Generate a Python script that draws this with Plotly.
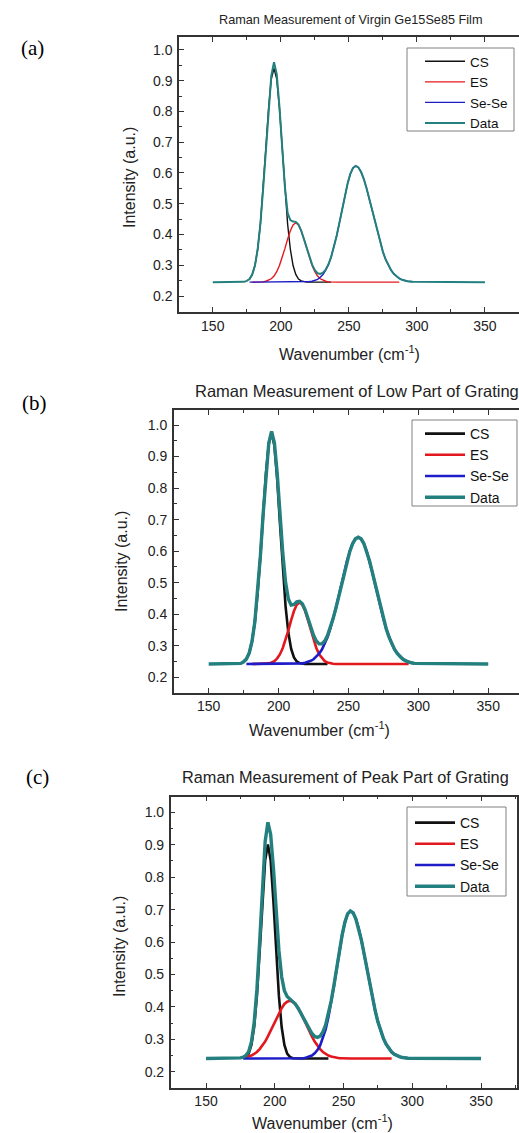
import plotly.graph_objects as go

W, H = 519, 1133

# ---------------- data ----------------
SERIES_NAMES = ["CS", "ES", "Se-Se", "Data"]
X_TICKS = [150, 200, 250, 300, 350]
Y_TICKS = [0.2, 0.3, 0.4, 0.5, 0.6, 0.7, 0.8, 0.9, 1.0]

# Wavenumber sample grid used for the measured "Data" curves
X_DATA = [150, 173] + list(range(175, 298, 2)) + [350]

# Component curves start at the given wavenumber and are sampled every 2 cm-1
CS_A_START, ES_A_START, SESE_A_START = 177, 179, 177
CS_A = [0.255, 0.270, 0.299, 0.352, 0.434, 0.547, 0.680, 0.810, 0.905, 0.940,
        0.905, 0.810, 0.680, 0.547, 0.434, 0.352, 0.299, 0.270, 0.255, 0.249,
        0.246, 0.245, 0.245, 0.245, 0.245, 0.245, 0.245, 0.245, 0.245, 0.245, 0.245]
ES_A = [0.245, 0.245, 0.245, 0.245, 0.246, 0.248, 0.251, 0.256, 0.265, 0.279,
        0.299, 0.324, 0.354, 0.385, 0.412, 0.431, 0.438, 0.431, 0.412, 0.385,
        0.354, 0.324, 0.299, 0.279, 0.265, 0.256, 0.251, 0.248, 0.246,
        0.245, 0.245, 0.245, 0.245, 0.245, 0.245, 0.245, 0.245, 0.245, 0.245,
        0.245, 0.245, 0.245, 0.245, 0.245, 0.245, 0.245, 0.245, 0.245, 0.245,
        0.245, 0.245, 0.245, 0.245, 0.245, 0.245]
SESE_A = [0.245, 0.245, 0.245, 0.245, 0.245, 0.245, 0.245, 0.245, 0.245, 0.245,
          0.245, 0.245, 0.245, 0.245, 0.245, 0.245, 0.245, 0.245, 0.245,
          0.245, 0.245, 0.246, 0.247, 0.248, 0.250, 0.254, 0.261, 0.270, 0.284,
          0.302, 0.327, 0.358, 0.395, 0.437, 0.481, 0.524, 0.564, 0.596, 0.616,
          0.623, 0.618, 0.603, 0.580, 0.550, 0.515, 0.478, 0.441, 0.405, 0.372,
          0.344, 0.319, 0.300, 0.284, 0.272, 0.263, 0.257, 0.253, 0.250, 0.248,
          0.247, 0.246]
DATA_A = [0.245, 0.246,
          0.249, 0.255, 0.270, 0.299, 0.352, 0.434, 0.548, 0.683, 0.816, 0.916,
          0.960, 0.921, 0.815, 0.685, 0.555, 0.470, 0.447, 0.442, 0.441, 0.432,
          0.412, 0.385, 0.355, 0.326, 0.302, 0.284, 0.274, 0.272, 0.276, 0.286,
          0.303, 0.327, 0.358, 0.395, 0.437, 0.481, 0.524, 0.564, 0.596, 0.616,
          0.623, 0.618, 0.603, 0.580, 0.550, 0.515, 0.478, 0.441, 0.405, 0.372,
          0.344, 0.319, 0.300, 0.284, 0.272, 0.263, 0.257, 0.253, 0.250, 0.248,
          0.247, 0.246, 0.245]

CS_B_START, ES_B_START, SESE_B_START = 175, 181, 177
CS_B = [0.249, 0.258, 0.277, 0.314, 0.375, 0.467, 0.586, 0.721, 0.849, 0.941,
        0.975, 0.935, 0.829, 0.687, 0.543, 0.425, 0.341, 0.290, 0.263, 0.250,
        0.245, 0.243, 0.242, 0.242, 0.242, 0.242, 0.242, 0.242, 0.242, 0.242, 0.242]
ES_B = [0.242, 0.242, 0.242, 0.242, 0.242, 0.243, 0.244, 0.247, 0.251, 0.260,
        0.273, 0.293, 0.318, 0.349, 0.381, 0.410, 0.430, 0.437, 0.430, 0.410,
        0.381, 0.349, 0.318, 0.293, 0.273, 0.260, 0.251, 0.247, 0.244, 0.243,
        0.242, 0.242, 0.242, 0.242, 0.242, 0.242, 0.242, 0.242, 0.242, 0.242,
        0.242, 0.242, 0.242, 0.242, 0.242, 0.242, 0.242, 0.242, 0.242, 0.242,
        0.242, 0.242, 0.242, 0.242, 0.242, 0.242, 0.242]
SESE_B = [0.242, 0.242, 0.242, 0.242, 0.242, 0.242, 0.242, 0.242, 0.242, 0.242,
          0.242, 0.242, 0.242, 0.242, 0.242, 0.242, 0.242, 0.242,
          0.243, 0.243, 0.244, 0.246, 0.248, 0.252, 0.257, 0.265, 0.275, 0.288,
          0.306, 0.327, 0.354, 0.385, 0.419, 0.457, 0.496, 0.534, 0.570, 0.600,
          0.624, 0.639, 0.644, 0.639, 0.624, 0.600, 0.570, 0.534, 0.496, 0.457,
          0.419, 0.385, 0.354, 0.327, 0.306, 0.288, 0.275, 0.265, 0.257, 0.252,
          0.248, 0.246, 0.244]
DATA_B = [0.242, 0.244,
          0.249, 0.258, 0.277, 0.314, 0.375, 0.467, 0.586, 0.721, 0.850, 0.943,
          0.980, 0.944, 0.847, 0.718, 0.594, 0.501, 0.448, 0.429, 0.431, 0.439,
          0.441, 0.433, 0.414, 0.387, 0.359, 0.333, 0.315, 0.306, 0.306, 0.315,
          0.332, 0.356, 0.386, 0.419, 0.457, 0.496, 0.534, 0.570, 0.600, 0.624,
          0.639, 0.644, 0.639, 0.624, 0.600, 0.570, 0.534, 0.496, 0.457, 0.419,
          0.385, 0.354, 0.327, 0.306, 0.288, 0.275, 0.265, 0.257, 0.252, 0.248,
          0.246, 0.244, 0.242]

CS_C_START, ES_C_START, SESE_C_START = 177, 177, 177
CS_C = [0.242, 0.246, 0.256, 0.283, 0.338, 0.434, 0.571, 0.726, 0.852, 0.901,
        0.852, 0.726, 0.571, 0.434, 0.338, 0.283, 0.256, 0.246, 0.242,
        0.241, 0.241, 0.241, 0.241, 0.241, 0.241, 0.241, 0.241, 0.241, 0.241,
        0.241, 0.241, 0.241]
ES_C = [0.243, 0.245, 0.247, 0.250, 0.255, 0.261, 0.270, 0.280, 0.293, 0.309,
        0.326, 0.344, 0.363, 0.381, 0.396, 0.409, 0.416, 0.419,
        0.416, 0.409, 0.396, 0.381, 0.363, 0.344, 0.326, 0.309, 0.293, 0.280,
        0.270, 0.261, 0.255, 0.250, 0.247, 0.245, 0.243, 0.242, 0.242,
        0.241, 0.241, 0.241, 0.241, 0.241, 0.241, 0.241, 0.241, 0.241, 0.241,
        0.241, 0.241, 0.241, 0.241, 0.241, 0.241, 0.241, 0.241]
SESE_C = [0.241, 0.241, 0.241, 0.241, 0.241, 0.241, 0.241, 0.241, 0.241, 0.241,
          0.241, 0.241, 0.241, 0.241, 0.241, 0.241, 0.241, 0.241, 0.241, 0.241,
          0.241, 0.242, 0.242, 0.244, 0.246, 0.250, 0.257, 0.267, 0.281, 0.303,
          0.331, 0.368, 0.412, 0.463, 0.517, 0.571, 0.621, 0.661, 0.687, 0.696,
          0.690, 0.671, 0.643, 0.606, 0.563, 0.517, 0.471, 0.428, 0.389, 0.354,
          0.326, 0.303, 0.285, 0.271, 0.261, 0.254, 0.249, 0.246, 0.244, 0.243,
          0.242]
DATA_C = [0.241, 0.242,
          0.243, 0.245, 0.250, 0.262, 0.292, 0.351, 0.454, 0.600, 0.765, 0.910,
          0.969, 0.932, 0.829, 0.693, 0.574, 0.493, 0.450, 0.432, 0.424, 0.418,
          0.409, 0.396, 0.381, 0.364, 0.347, 0.331, 0.318, 0.309, 0.306, 0.310,
          0.323, 0.345, 0.377, 0.418, 0.466, 0.519, 0.572, 0.622, 0.661, 0.687,
          0.696, 0.690, 0.671, 0.643, 0.606, 0.563, 0.517, 0.471, 0.428, 0.389,
          0.354, 0.326, 0.303, 0.285, 0.271, 0.261, 0.254, 0.249, 0.246, 0.244,
          0.243, 0.242, 0.241]

TITLES = ["Raman Measurement of Virgin Ge15Se85 Film",
          "Raman Measurement of Low Part of Grating",
          "Raman Measurement of Peak Part of Grating"]
PANEL_LABELS = ["(a)", "(b)", "(c)"]
X_TITLE = "Wavenumber (cm<sup>-1</sup>)"
Y_TITLE = "Intensity (a.u.)"


def grid(start, n):
    return list(range(start, start + 2 * n, 2))


PANELS = [
    dict(cs=(CS_A_START, CS_A), es=(ES_A_START, ES_A), se=(SESE_A_START, SESE_A), data=DATA_A),
    dict(cs=(CS_B_START, CS_B), es=(ES_B_START, ES_B), se=(SESE_B_START, SESE_B), data=DATA_B),
    dict(cs=(CS_C_START, CS_C), es=(ES_C_START, ES_C), se=(SESE_C_START, SESE_C), data=DATA_C),
]

# ---------------- styling / layout (pixels) ----------------
COLORS = {"CS": "#111111", "ES": "#e3181e", "Se-Se": "#1c1cc8", "Data": "#23807f"}
STYLE = [
    dict(left=179, right=519, top=37, bottom=312, xr=[125.2, 375.0], yr=[0.148, 1.042],
         lw=1.4, dlw=2.0, mirror_y=False,
         title=dict(x=350.5, y=20, size=12.7, anchor="center"),
         label=(32, 48), ytitle=(129, 178), xtitle=(349, 353),
         legend=(420, 46), lfont=13.5, lbox=(407, 48, 514, 131)),
    dict(left=173.75, right=519, top=410, bottom=692.7, xr=[125.0, 372.0], yr=[0.151, 1.0476],
         lw=2.6, dlw=3.4, mirror_y=False,
         title=dict(x=193, y=391, size=16.5, anchor="left"),
         label=(34, 403), ytitle=(121, 562), xtitle=(319, 729),
         legend=(420, 418), lfont=14, lbox=(412, 420, 517, 506)),
    dict(left=170.7, right=516.7, top=796.7, bottom=1087.7, xr=[124.3, 375.96], yr=[0.151, 1.048],
         lw=2.6, dlw=3.4, mirror_y=True,
         title=dict(x=345.5, y=777, size=16.3, anchor="center"),
         label=(37, 777), ytitle=(119, 947), xtitle=(322, 1122),
         legend=(410, 807), lfont=14, lbox=(407, 807, 506, 896)),
]

FONT = "Liberation Sans, Arial, sans-serif"
AXC = "#333333"

fig = go.Figure()
layout = dict(width=W, height=H, margin=dict(l=0, r=0, t=0, b=0),
              paper_bgcolor="white", plot_bgcolor="white", showlegend=True,
              font=dict(family=FONT, color="#222222"))
annotations = []
shapes = []

for i, (p, s) in enumerate(zip(PANELS, STYLE)):
    n = "" if i == 0 else str(i + 1)
    xa, ya = "x" + n, "y" + n
    leg = "legend" + n
    for name, key in zip(SERIES_NAMES[:3], ["cs", "es", "se"]):
        start, vals = p[key]
        fig.add_trace(go.Scatter(x=grid(start, len(vals)), y=vals, mode="lines", name=name,
                                 line=dict(color=COLORS[name], width=s["lw"]),
                                 xaxis=xa, yaxis=ya, legend=leg, hoverinfo="skip"))
    fig.add_trace(go.Scatter(x=X_DATA, y=p["data"], mode="lines", name="Data",
                             line=dict(color=COLORS["Data"], width=s["dlw"]),
                             xaxis=xa, yaxis=ya, legend=leg, hoverinfo="skip"))

    common = dict(showgrid=False, zeroline=False, showline=True, linecolor=AXC, linewidth=1.5,
                  ticks="inside", ticklen=5, tickwidth=1.2, tickcolor=AXC,
                  tickfont=dict(size=14, family=FONT, color="#222222"))
    layout["xaxis" + n] = dict(common, domain=[s["left"] / W, s["right"] / W], range=s["xr"],
                               anchor=ya, tickvals=X_TICKS, mirror="ticks",
                               minor=dict(dtick=25, tick0=125, ticklen=3, tickwidth=1.0,
                                          tickcolor=AXC, ticks="inside"))
    layout["yaxis" + n] = dict(common, domain=[1 - s["bottom"] / H, 1 - s["top"] / H], range=s["yr"],
                               anchor=xa, tickvals=Y_TICKS, tickformat=".1f",
                               mirror=s["mirror_y"], ticklabelstandoff=2,
                               minor=dict(dtick=0.05, tick0=0.15, ticklen=3, tickwidth=1.0,
                                          tickcolor=AXC, ticks="inside"))
    lx, ly = s["legend"]
    layout[leg] = dict(x=lx / W, y=1 - ly / H, xanchor="left", yanchor="top",
                       bgcolor="rgba(0,0,0,0)", borderwidth=0,
                       font=dict(size=s["lfont"], family=FONT, color="#111111"),
                       tracegroupgap=0, itemwidth=40)
    bx0, by0, bx1, by1 = s["lbox"]
    shapes.append(dict(type="rect", xref="paper", yref="paper", layer="above",
                       x0=bx0 / W, x1=bx1 / W, y0=1 - by1 / H, y1=1 - by0 / H,
                       line=dict(color="#808080", width=1), fillcolor="white"))

    t = s["title"]
    annotations.append(dict(text=TITLES[i], x=t["x"] / W, y=1 - t["y"] / H, xref="paper", yref="paper",
                            xanchor=t["anchor"], yanchor="middle", showarrow=False,
                            font=dict(size=t["size"], family=FONT, color="#222222")))
    bx, by = s["label"]
    annotations.append(dict(text=PANEL_LABELS[i], x=bx / W, y=1 - by / H, xref="paper", yref="paper",
                            xanchor="center", yanchor="middle", showarrow=False,
                            font=dict(size=21, family="Liberation Serif, Times New Roman, serif",
                                      color="#000000")))
    yx, yy = s["ytitle"]
    annotations.append(dict(text=Y_TITLE, x=yx / W, y=1 - yy / H, xref="paper", yref="paper",
                            xanchor="center", yanchor="middle", textangle=-90, showarrow=False,
                            font=dict(size=16, family=FONT, color="#222222")))
    tx, ty = s["xtitle"]
    annotations.append(dict(text=X_TITLE, x=tx / W, y=1 - ty / H, xref="paper", yref="paper",
                            xanchor="center", yanchor="middle", showarrow=False,
                            font=dict(size=16, family=FONT, color="#222222")))

layout["annotations"] = annotations
layout["shapes"] = shapes
fig.update_layout(**layout)
fig.write_html("out.html", config={"displayModeBar": False},
               post_script="document.body.style.margin='0px';document.body.style.overflow='hidden';")
